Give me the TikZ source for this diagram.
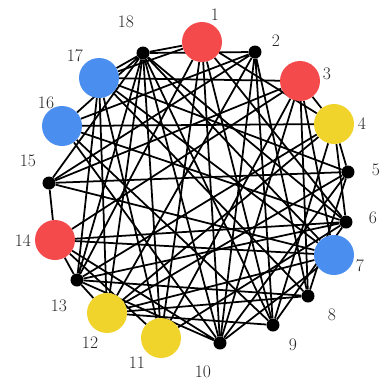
\documentclass[tikz,border=0pt]{standalone}
\usepackage{xcolor}
\usetikzlibrary{backgrounds}

\definecolor{vred}{RGB}{244,74,76}
\definecolor{vblue}{RGB}{74,142,240}
\definecolor{vyellow}{RGB}{240,212,44}

\begin{document}
\begin{tikzpicture}[
    x=0.03cm, y=-0.03cm,
    big/.style={circle, inner sep=0pt, minimum size=1.2cm},
    redv/.style={big, fill=vred},
    bluev/.style={big, fill=vblue},
    yelv/.style={big, fill=vyellow},
    dotv/.style={circle, fill=black, inner sep=0pt, minimum size=0.39cm},
    edge/.style={line width=1.5pt, black},
    num/.style={font=\fontsize{15}{17}\selectfont, text=black!85},
]
\useasboundingbox (0,0) rectangle (380,380);

% Vertices
\node[redv] (n1) at (202,42) {};
\node[dotv] (n2) at (255,52) {};
\node[redv] (n3) at (300,81) {};
\node[yelv] (n4) at (334,124) {};
\node[dotv] (n5) at (348,172) {};
\node[dotv] (n6) at (346,222) {};
\node[bluev] (n7) at (334,255) {};
\node[dotv] (n8) at (308,296) {};
\node[dotv] (n9) at (273,325) {};
\node[dotv] (n10) at (220,343) {};
\node[yelv] (n11) at (161,338) {};
\node[yelv] (n12) at (107,313) {};
\node[dotv] (n13) at (77,280) {};
\node[redv] (n14) at (55,240) {};
\node[dotv] (n15) at (49,183) {};
\node[bluev] (n16) at (62,126) {};
\node[bluev] (n17) at (99,78) {};
\node[dotv] (n18) at (143,53) {};

% Labels
\node[num] (l1) at (215,15) {1};
\node[num] (l2) at (276,41) {2};
\node[num] (l3) at (327,74) {3};
\node[num] (l4) at (362,124) {4};
\node[num] (l5) at (376,170) {5};
\node[num] (l6) at (373,218) {6};
\node[num] (l7) at (360,266) {7};
\node[num] (l8) at (332,315) {8};
\node[num] (l9) at (293,345) {9};
\node[num] (l10) at (203,372) {10};
\node[num] (l11) at (137,363) {11};
\node[num] (l12) at (90,343) {12};
\node[num] (l13) at (59,306) {13};
\node[num] (l14) at (23,241) {14};
\node[num] (l15) at (28,161) {15};
\node[num] (l16) at (46,103) {16};
\node[num] (l17) at (75,56) {17};
\node[num] (l18) at (126,22) {18};

% Edges
\begin{scope}[on background layer]
\draw[edge] (n1) -- (n18) (n1) -- (n17) (n1) -- (n13) (n1) -- (n11)
            (n1) -- (n10) (n1) -- (n9) (n1) -- (n4) (n1) -- (n6);
\draw[edge] (n2) -- (n18) (n2) -- (n9) (n2) -- (n16) (n2) -- (n15)
            (n2) -- (n12) (n2) -- (n8) (n2) -- (n10);
\draw[edge] (n3) -- (n4) (n3) -- (n8) (n3) -- (n17) (n3) -- (n15)
            (n3) -- (n14) (n3) -- (n11) (n3) -- (n10) (n3) -- (n7);
\draw[edge] (n4) -- (n5) (n4) -- (n16) (n4) -- (n13) (n4) -- (n12)
            (n4) -- (n9) (n4) -- (n6);
\draw[edge] (n5) -- (n15) (n5) -- (n12) (n5) -- (n10) (n5) -- (n17) (n5) -- (n8);
\draw[edge] (n6) -- (n16) (n6) -- (n14) (n6) -- (n13) (n6) -- (n11)
            (n6) -- (n9) (n6) -- (n18);
\draw[edge] (n7) -- (n14) (n7) -- (n18) (n7) -- (n15) (n7) -- (n12)
            (n7) -- (n10) (n7) -- (n17);
\draw[edge] (n8) -- (n13) (n8) -- (n12) (n8) -- (n17);
\draw[edge] (n9) -- (n18) (n9) -- (n16) (n9) -- (n12);
\draw[edge] (n10) -- (n18) (n10) -- (n16) (n10) -- (n14) (n10) -- (n13);
\draw[edge] (n11) -- (n18) (n11) -- (n14) (n11) -- (n17);
\draw[edge] (n12) -- (n13) (n12) -- (n18) (n12) -- (n17);
\draw[edge] (n13) -- (n14) (n13) -- (n18) (n13) -- (n17);
\draw[edge] (n14) -- (n15) (n15) -- (n18) (n16) -- (n18) (n17) -- (n18);
\end{scope}
\end{tikzpicture}
\end{document}
